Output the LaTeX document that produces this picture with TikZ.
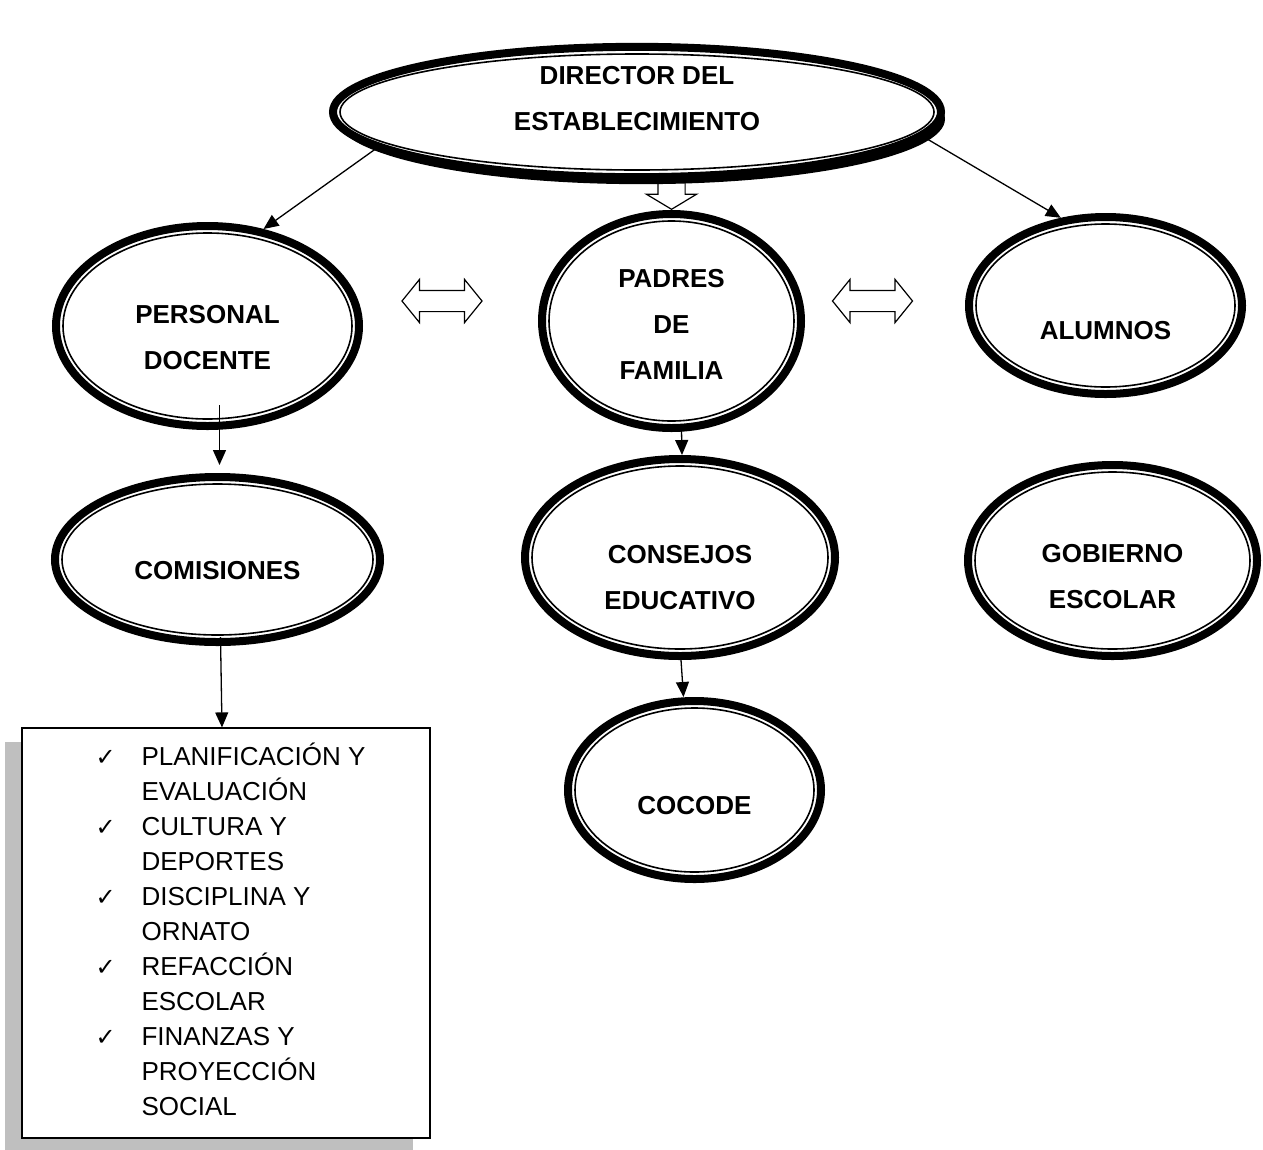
\documentclass[tikz,border=0pt]{standalone}
\usepackage{fontspec}
\setmainfont{Liberation Sans}
\newfontfamily\simbolo{DejaVu Sans}
\usetikzlibrary{shapes.geometric,shapes.arrows,arrows.meta,calc,shadows}
\newcommand{\marca}{{\simbolo\fontsize{24}{35}\selectfont ✓}}
\tikzset{
	ovalo/.style 2 args={ellipse, draw, line width=8pt, fill=white, inner sep=0pt,
		minimum width=#1, minimum height=#2, align=center,
		font=\fontsize{26}{46}\selectfont\bfseries,
		path picture={\draw[line width=1.6pt] (path picture bounding box.center) ellipse [x radius=#1/2-7, y radius=#2/2-7];}},
	dflecha/.style={double arrow, draw, fill=white, line width=1.2pt, minimum height=80pt,
		inner sep=10pt, double arrow head extend=11pt, double arrow tip angle=102},
	sflecha/.style={single arrow, draw, fill=white, line width=1.2pt, shape border rotate=270,
		minimum height=42pt, inner sep=13pt, single arrow head extend=11.5pt, single arrow tip angle=118},
	lista/.style={draw, line width=1.2pt, fill=white, inner sep=0pt, minimum width=408, minimum height=410,
		font=\fontsize{26}{35}\selectfont,
		drop shadow={shadow xshift=-17pt, shadow yshift=-14pt, fill=gray!50, opacity=1}},
	flecha/.style={-{Triangle[length=15pt,width=13pt]}, line width=1.3pt}
}
\begin{document}
\begin{tikzpicture}[x=1pt,y=-1pt]
	\useasboundingbox (0,0) rectangle (1263,1149);
	\node[ovalo={303}{200}] (personal) at (207.5,326) {\rule{0pt}{41pt}PERSONAL\\DOCENTE};
	\node[ovalo={259}{214}] (padres) at (671.5,321) {\rule{0pt}{25pt}PADRES\\DE\\FAMILIA};
	\node[ovalo={273}{177}] (alumnos) at (1105.5,305.5) {\rule{0pt}{69pt}ALUMNOS};
	\node[ovalo={325}{165}] (comisiones) at (217.5,559.5) {\rule{0pt}{41pt}COMISIONES};
	\node[ovalo={310}{197}] (consejos) at (680,557.5) {\rule{0pt}{59pt}CONSEJOS\\EDUCATIVO};
	\node[ovalo={289}{191}] (gobierno) at (1112.5,560.5) {\rule{0pt}{51pt}GOBIERNO\\ESCOLAR};
	\node[ovalo={253}{178}] (cocode) at (694.5,790) {\rule{0pt}{49pt}COCODE};
	\node[sflecha, anchor=tip] (bajada) at (padres.north) {};
	\node[ovalo={608}{130}, drop shadow={shadow xshift=4pt, shadow yshift=-7pt, fill=black, opacity=1}] (director) at (637,112) {DIRECTOR DEL\\ESTABLECIMIENTO\rule[-28pt]{0pt}{0pt}};
	\node[dflecha] (flechaA) at (442,301) {};
	\node[dflecha] (flechaB) at (872.5,301) {};
	\node[lista] (lista) at (226,933) {\begin{tabular}{@{\hspace{9pt}}p{46pt}@{}l@{}}
		\marca & PLANIFICACIÓN Y\\
		& EVALUACIÓN\\
		\marca & CULTURA Y\\
		& DEPORTES\\
		\marca & DISCIPLINA Y\\
		& ORNATO\\
		\marca & REFACCIÓN\\
		& ESCOLAR\\
		\marca & FINANZAS Y\\
		& PROYECCIÓN\\
		& SOCIAL
	\end{tabular}};
	\draw[flecha] (director.188) -- (personal.60);
	\draw[flecha] (director.355) -- (alumnos.117);
	\draw[flecha] ($(personal.south)+(12,-25)$) -- ($(comisiones.north)+(2,-8)$);
	\draw[flecha] ($(comisiones.south)+(3,-9)$) -- ($(lista.north)+(-4,0)$);
	\draw[flecha] ($(padres.south)+(10,-2)$) -- ($(consejos.north)+(2,0)$);
	\draw[flecha] ($(consejos.south)+(1,0)$) -- ($(cocode.north)+(-11,0)$);
\end{tikzpicture}
\end{document}
